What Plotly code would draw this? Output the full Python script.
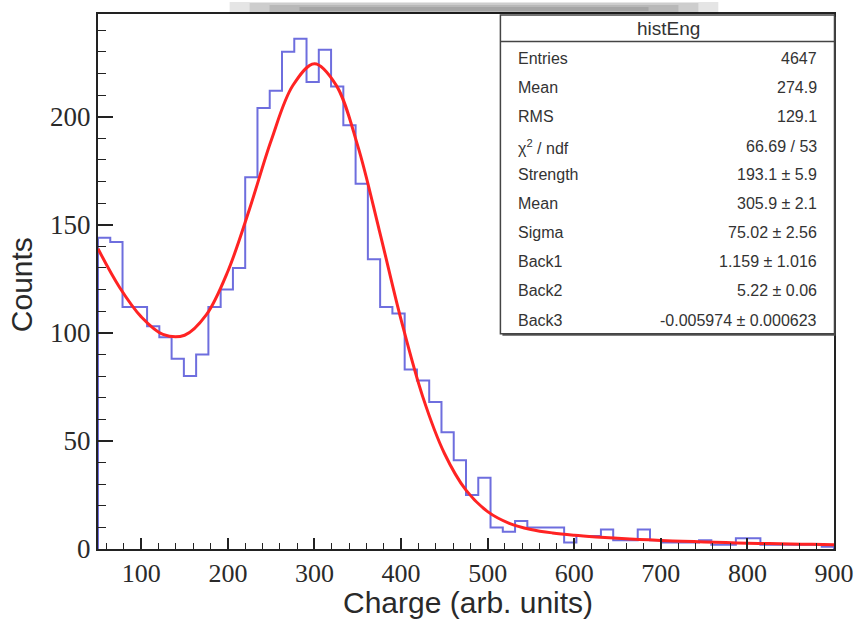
import numpy as np
import plotly.graph_objects as go

# ---------------- data ----------------
bin_start = 50.0
bin_end = 900.0
counts = [144, 142, 112, 112, 103, 98, 88, 80, 90, 112,
          120, 130, 172, 204, 212, 230, 236, 216, 231, 214,
          196, 169, 134, 112, 109, 83, 78, 68, 54, 41,
          25, 33, 10, 8, 13, 10, 10, 10, 3, 6,
          6, 9, 4, 4, 9, 4, 3, 3, 3, 4,
          2, 2, 5, 5, 2, 2, 2, 2, 2, 1]

fit_x = [50, 75, 100, 125, 150, 175, 200, 225, 250, 275, 300, 325, 350, 375,
         400, 425, 450, 475, 500, 525, 550, 575, 600, 625, 650, 675, 700,
         725, 750, 775, 800, 825, 850, 875, 900]
fit_y = [138.9, 121.0, 107.4, 99.3, 98.9, 108.3, 128.5, 157.3, 189.0, 214.4,
         224.5, 214.6, 186.5, 147.2, 106.1, 70.5, 44.3, 27.2, 17.3, 11.9,
         9.05, 7.43, 6.38, 5.60, 4.97, 4.44, 3.98, 3.59, 3.26, 2.96, 2.71,
         2.50, 2.31, 2.15, 2.01]

x_ticks = [100, 200, 300, 400, 500, 600, 700, 800, 900]
y_ticks = [0, 50, 100, 150, 200]

stats_title = "histEng"
stats_labels = ["Entries", "Mean", "RMS", "χ<sup>2</sup> / ndf", "Strength",
                "Mean", "Sigma", "Back1", "Back2", "Back3"]
stats_values = ["4647", "274.9", "129.1", "66.69 / 53", "193.1 ± 5.9",
                "305.9 ± 2.1", "75.02 ± 2.56", "1.159 ± 1.016", "5.22 ± 0.06",
                "-0.005974 ± 0.000623"]

# ---------------- figure ----------------
W, H = 866, 619
ML, MR, MT, MB = 98, 30, 12, 70
PW = W - ML - MR
PH = H - MT - MB


def px_x(p):
    return (p - ML) / PW


def px_y(p):
    return 1 - (p - MT) / PH


edges = np.linspace(bin_start, bin_end, len(counts) + 1)
hx = [bin_start] + list(edges[:-1]) + [bin_end, bin_end]
hy = [0] + list(counts) + [counts[-1], 0]

fig = go.Figure()
fig.add_trace(go.Scatter(x=hx, y=hy, mode="lines", line_shape="hv",
                         line=dict(color="rgb(110,110,222)", width=2),
                         hoverinfo="skip"))
fig.add_trace(go.Scatter(x=fit_x, y=fit_y, mode="lines", line_shape="spline",
                         line=dict(color="rgb(255,35,35)", width=3),
                         hoverinfo="skip"))

xtick_font = dict(family="Liberation Serif", size=26, color="#2a2a2a")
ytick_font = dict(family="Liberation Serif", size=27, color="#2a2a2a")
fig.update_layout(
    width=W, height=H, margin=dict(l=ML, r=MR, t=MT, b=MB),
    paper_bgcolor="white", plot_bgcolor="white", showlegend=False,
    xaxis=dict(range=[bin_start, bin_end], tickvals=x_ticks, ticks="inside",
               ticklen=11, tickwidth=1.5, tickcolor="#222",
               minor=dict(ticks="inside", ticklen=6, dtick=20, tick0=0,
                          tickcolor="#222", tickwidth=1.2),
               showline=True, linecolor="#222", linewidth=2, mirror=True,
               showgrid=False, zeroline=False, tickfont=xtick_font),
    yaxis=dict(range=[0, 247.5], tickvals=y_ticks, ticks="inside",
               ticklen=15, tickwidth=1.5, tickcolor="#222",
               minor=dict(ticks="inside", ticklen=8, dtick=10, tick0=0,
                          tickcolor="#222", tickwidth=1.2),
               showline=True, linecolor="#222", linewidth=2, mirror=True,
               showgrid=False, zeroline=False, tickfont=ytick_font),
)

annots = []
title_font = dict(family="Liberation Sans", size=30, color="#2a2a2a")
annots.append(dict(text="Charge (arb. units)", xref="paper", yref="paper",
                   x=px_x(469), y=px_y(603), xanchor="center", yanchor="middle",
                   showarrow=False, font=title_font))
annots.append(dict(text="Counts", xref="paper", yref="paper",
                   x=px_x(22), y=px_y(284), xanchor="center", yanchor="middle",
                   textangle=-90, showarrow=False, font=title_font))

# top shadow band
shapes = []
for x0, x1, y0, y1, op in [(230, 720, 0, 12, 0.10),
                           (250, 700, 1, 11, 0.10),
                           (270, 680, 3, 10, 0.10),
                           (300, 650, 5, 9, 0.10)]:
    shapes.append(dict(type="rect", xref="paper", yref="paper",
                       x0=px_x(x0), x1=px_x(x1), y0=px_y(y1), y1=px_y(y0),
                       fillcolor="black", opacity=op, line=dict(width=0),
                       layer="above"))

# stats box
bx0, bx1, by0, by1 = 501.5, 836.5, 13, 333
shapes.append(dict(type="rect", xref="paper", yref="paper",
                   x0=px_x(bx0 + 2), x1=px_x(bx1 + 1), y0=px_y(by1 + 2), y1=px_y(by0 + 2),
                   fillcolor="#555", line=dict(width=0), layer="above"))
shapes.append(dict(type="rect", xref="paper", yref="paper",
                   x0=px_x(bx0), x1=px_x(bx1), y0=px_y(by1), y1=px_y(by0),
                   fillcolor="white", line=dict(color="#444", width=1.5),
                   layer="above"))
shapes.append(dict(type="line", xref="paper", yref="paper",
                   x0=px_x(bx0), x1=px_x(bx1), y0=px_y(39.5), y1=px_y(39.5),
                   line=dict(color="#444", width=1.5), layer="above"))

stat_font = dict(family="Liberation Sans", size=16, color="#333")
annots.append(dict(text=stats_title, xref="paper", yref="paper",
                   x=px_x(670), y=px_y(26.5), xanchor="center", yanchor="middle",
                   showarrow=False, font=dict(family="Liberation Sans", size=19, color="#333")))
row_y = [56.7, 86, 115, 145, 173.3, 202.7, 231.7, 260.7, 290, 320]
for lab, val, ry in zip(stats_labels, stats_values, row_y):
    annots.append(dict(text=lab, xref="paper", yref="paper", x=px_x(517),
                       y=px_y(ry), xanchor="left", yanchor="middle",
                       showarrow=False, font=stat_font))
    annots.append(dict(text=val, xref="paper", yref="paper", x=px_x(821),
                       y=px_y(ry), xanchor="right", yanchor="middle",
                       showarrow=False, font=stat_font))

fig.update_layout(annotations=annots, shapes=shapes)
fig.write_html("out.html")
